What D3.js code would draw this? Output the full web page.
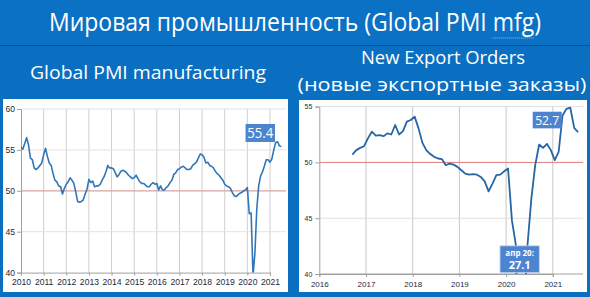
<!DOCTYPE html>
<html><head><meta charset="utf-8">
<script src="https://cdn.jsdelivr.net/npm/d3@7"></script>
<style>
html,body{margin:0;padding:0;background:#0a6fc0;}
svg{display:block;}
</style></head>
<body>
<svg id="c" width="590" height="297"></svg>
<script>
// ---------- DATA ----------
const pmiStart = [2010, 0];           // Jan 2010, monthly
const globalPMI = [
 55.3,55.1,55.8,56.5,55.6,54.0,53.8,52.8,52.6,52.8,53.1,53.4,
 54.4,55.2,54.2,53.4,53.1,52.1,51.3,51.1,50.6,50.5,49.6,50.3,
 50.8,51.1,51.6,51.3,50.9,49.9,48.7,48.6,48.7,48.9,49.6,50.2,
 51.4,51.0,51.2,50.5,50.6,50.6,50.8,51.3,51.7,52.3,53.1,52.8,
 52.8,52.7,52.2,51.7,52.0,52.4,52.5,52.4,52.2,51.9,51.7,51.5,
 51.6,51.9,51.5,51.1,50.9,50.9,50.7,50.5,50.5,50.8,51.0,50.8,
 50.9,50.1,50.6,50.1,50.1,50.4,50.6,51.0,51.3,52.0,52.2,52.6,
 52.7,52.9,53.0,52.8,52.6,52.6,52.7,53.1,53.3,53.5,54.0,54.5,
 54.4,54.1,53.4,53.5,53.1,53.0,52.8,52.4,52.1,51.9,51.6,51.3,
 50.8,50.6,50.5,50.3,49.8,49.4,49.3,49.5,49.7,49.8,50.0,50.1,
 50.4,47.2,47.3,39.6,42.4,47.8,50.6,51.8,52.3,53.0,53.8,53.8,
 53.5,53.9,55.0,55.9,56.0,55.5,55.4
];
const exportStart = [2016, 8];        // Sep 2016, monthly
const exportOrders = [
 50.7,51.1,51.3,51.45,
 52.15,52.75,52.4,52.45,52.35,52.6,52.5,53.35,52.5,52.8,53.65,53.8,
 54.1,53.05,51.75,51.1,50.75,50.5,50.35,50.3,49.75,49.9,49.8,49.6,
 49.3,49.0,48.9,48.95,48.9,48.7,48.3,47.4,48.1,48.85,48.9,49.2,
 49.45,44.8,42.6,27.1,36.3,42.6,46.8,49.8,51.6,51.3,51.65,51.1,
 50.2,50.95,54.2,54.8,54.9,53.1,52.7
];
const leftYears = [2010,2011,2012,2013,2014,2015,2016,2017,2018,2019,2020,2021];
const rightYears = [2016,2017,2018,2019,2020,2021];
const leftYTicks = [40,45,50,55,60];
const rightYTicks = [40,45,50,55];
const titleText = "Мировая промышленность (Global PMI mfg)";
const leftTitle = "Global PMI manufacturing";
const rightTitle1 = "New Export Orders";
const rightTitle2 = "(новые экспортные заказы)";
const leftCallout = "55.4";
const rightCallout = "52.7";
const lowCallout = ["апр 20:", "27.1"];

// ---------- DRAW ----------
const svg = d3.select("#c");
const FONT = "'Open Sans', 'Noto Sans', sans-serif";
const AX = "'Liberation Sans', Arial, sans-serif";

svg.append("rect").attr("width",590).attr("height",297).attr("fill","#0a6fc0");
svg.append("rect").attr("width",590).attr("height",45).attr("fill","#0b71c4");
svg.append("line").attr("x1",0).attr("x2",590).attr("y1",45.5).attr("y2",45.5)
   .attr("stroke","#0a5596").attr("stroke-width",1.2);

const t = svg.append("text").attr("x",295).attr("y",31).attr("text-anchor","middle")
  .attr("fill","#fff").attr("font-family",FONT).attr("font-size",25)
  .attr("textLength",492).attr("lengthAdjust","spacingAndGlyphs").text(titleText);
// spell-check style squiggle under "mfg"
try{
  const node=t.node(); const i=titleText.indexOf("mfg");
  const a=node.getStartPositionOfChar(i).x, b=node.getEndPositionOfChar(i+2).x;
  svg.append("line").attr("x1",a).attr("x2",b).attr("y1",38).attr("y2",38)
    .attr("stroke","#8fbde6").attr("stroke-width",1).attr("stroke-dasharray","1,1");
}catch(e){}

svg.append("text").attr("x",148).attr("y",79).attr("text-anchor","middle")
  .attr("fill","#fff").attr("font-family",FONT).attr("font-size",18.5)
  .attr("textLength",236).attr("lengthAdjust","spacingAndGlyphs").text(leftTitle);
svg.append("text").attr("x",443).attr("y",64).attr("text-anchor","middle")
  .attr("fill","#fff").attr("font-family",FONT).attr("font-size",18.5)
  .attr("textLength",164).attr("lengthAdjust","spacingAndGlyphs").text(rightTitle1);
svg.append("text").attr("x",442).attr("y",91).attr("text-anchor","middle")
  .attr("fill","#fff").attr("font-family",FONT).attr("font-size",18.5)
  .attr("textLength",289).attr("lengthAdjust","spacingAndGlyphs").text(rightTitle2);

// panels
svg.append("rect").attr("x",3).attr("y",99).attr("width",285).attr("height",193).attr("fill","#fff");
svg.append("rect").attr("x",299).attr("y",100).attr("width",288).attr("height",192).attr("fill","#fff");

function monthTime(start, i, offset){ return start[0] + (start[1] + i + offset)/12; }

// ---------- LEFT CHART ----------
const xL = d3.scaleLinear().domain([2010,2021]).range([21,270]);
const yL = d3.scaleLinear().domain([40,60]).range([272.6,109]);
const gL = svg.append("g");
gL.selectAll(".vg").data(leftYears.slice(1)).join("line")
  .attr("x1",d=>xL(d)).attr("x2",d=>xL(d)).attr("y1",yL(60)).attr("y2",yL(40))
  .attr("stroke","#cfcfcf").attr("stroke-width",1);
gL.selectAll(".hg").data(leftYTicks.filter(v=>v!==40&&v!==50)).join("line")
  .attr("x1",xL(2010)).attr("x2",286).attr("y1",d=>yL(d)).attr("y2",d=>yL(d))
  .attr("stroke","#e3e3e3").attr("stroke-width",1);
gL.append("line").attr("x1",xL(2010)).attr("x2",286).attr("y1",yL(50)).attr("y2",yL(50))
  .attr("stroke","#d9a3a0").attr("stroke-width",1.2);

const axL = gL.append("g").attr("transform",`translate(${xL(2010)},0)`)
  .call(d3.axisLeft(yL).tickValues(leftYTicks).tickSize(4).tickPadding(2).tickFormat(d3.format("d")));
const axLB = gL.append("g").attr("transform",`translate(0,${yL(40)})`)
  .call(d3.axisBottom(xL).tickValues(leftYears).tickSize(3).tickPadding(3).tickFormat(d3.format("d")));
[axL,axLB].forEach(a=>{
  a.select(".domain").attr("stroke","#a0a0a0");
  a.selectAll(".tick line").attr("stroke","#a0a0a0");
  a.selectAll("text").attr("fill","#1e2a3a").attr("font-family",AX).attr("font-size",8.6);
});

svg.append("clipPath").attr("id","clipL").append("rect")
  .attr("x",xL(2010)).attr("y",yL(60)-2).attr("width",270).attr("height",yL(40)-yL(60)+2);
const lineL = d3.line().x((d,i)=>xL(monthTime(pmiStart,i,0))).y(d=>yL(d));
gL.append("path").datum(globalPMI).attr("d",lineL).attr("fill","none")
  .attr("stroke","#3276b6").attr("stroke-width",1.6).attr("stroke-linejoin","round")
  .attr("clip-path","url(#clipL)");

// callout 55.4
const cbL = {x0:xL(2019.92), x1:xL(2021.22), y0:yL(58.17), y1:yL(55.97)};
gL.append("rect").attr("x",cbL.x0).attr("y",cbL.y0).attr("width",cbL.x1-cbL.x0).attr("height",cbL.y1-cbL.y0)
  .attr("fill","#4d84cf");
gL.append("text").attr("x",(cbL.x0+cbL.x1)/2).attr("y",cbL.y1-3.5).attr("text-anchor","middle")
  .attr("fill","#fff").attr("font-family",FONT).attr("font-size",14)
  .attr("textLength",26).attr("lengthAdjust","spacingAndGlyphs").text(leftCallout);

// ---------- RIGHT CHART ----------
const xR = d3.scaleLinear().domain([2016,2021]).range([319.3,552.8]);
const yR = d3.scaleLinear().domain([40,55]).range([274,106.6]);
const gR = svg.append("g");
gR.selectAll(".vg").data(rightYears.slice(1)).join("line")
  .attr("x1",d=>xR(d)).attr("x2",d=>xR(d)).attr("y1",yR(55)).attr("y2",yR(40))
  .attr("stroke","#c8c8c8").attr("stroke-width",1);
gR.selectAll(".hg").data(rightYTicks.filter(v=>v!==40&&v!==50)).join("line")
  .attr("x1",xR(2016)).attr("x2",583).attr("y1",d=>yR(d)).attr("y2",d=>yR(d))
  .attr("stroke","#e0e0e0").attr("stroke-width",1);
gR.append("line").attr("x1",xR(2016)).attr("x2",583).attr("y1",yR(50)).attr("y2",yR(50))
  .attr("stroke","#e07b78").attr("stroke-width",1);

const axR = gR.append("g").attr("transform",`translate(${xR(2016)},0)`)
  .call(d3.axisLeft(yR).tickValues(rightYTicks).tickSize(4).tickPadding(3).tickFormat(d3.format("d")));
const axRB = gR.append("g").attr("transform",`translate(0,${yR(40)})`)
  .call(d3.axisBottom(xR).tickValues(rightYears).tickSize(3).tickPadding(4).tickFormat(d3.format("d")));
gR.append("line").attr("x1",xR(2016)).attr("x2",583).attr("y1",yR(40)).attr("y2",yR(40)).attr("stroke","#a0a0a0");
[axR,axRB].forEach(a=>{
  a.select(".domain").attr("stroke","#a0a0a0");
  a.selectAll(".tick line").attr("stroke","#a0a0a0");
  a.selectAll("text").attr("fill","#1e2a3a").attr("font-family",AX);
});
axR.selectAll("text").attr("font-size",7);
axRB.selectAll("text").attr("font-size",8);

svg.append("clipPath").attr("id","clipR").append("rect")
  .attr("x",xR(2016)).attr("y",yR(55)-3).attr("width",270).attr("height",yR(40)-yR(55)+3);
const lineR = d3.line().x((d,i)=>xR(monthTime(exportStart,i,0.5))).y(d=>yR(d));
gR.append("path").datum(exportOrders).attr("d",lineR).attr("fill","none")
  .attr("stroke","#2466a6").attr("stroke-width",1.8).attr("stroke-linejoin","round")
  .attr("clip-path","url(#clipR)");

// callout 52.7
const cbR = {x0:xR(2020.57), x1:xR(2021.19), y0:yR(54.54), y1:yR(53.05)};
gR.append("rect").attr("x",cbR.x0).attr("y",cbR.y0).attr("width",cbR.x1-cbR.x0).attr("height",cbR.y1-cbR.y0)
  .attr("fill","#4d84cf");
gR.append("text").attr("x",(cbR.x0+cbR.x1)/2).attr("y",cbR.y1-3.5).attr("text-anchor","middle")
  .attr("fill","#fff").attr("font-family",FONT).attr("font-size",13)
  .attr("textLength",24).attr("lengthAdjust","spacingAndGlyphs").text(rightCallout);

// callout апр 20: 27.1
const cbA = {x0:xR(2019.87), x1:xR(2020.71), y0:yR(42.52), y1:yR(40.13)};
gR.append("rect").attr("x",cbA.x0).attr("y",cbA.y0).attr("width",cbA.x1-cbA.x0).attr("height",cbA.y1-cbA.y0)
  .attr("fill","#4d84cf").attr("stroke","#b7cff0").attr("stroke-width",0.8);
gR.append("text").attr("x",(cbA.x0+cbA.x1)/2).attr("y",cbA.y0+10).attr("text-anchor","middle")
  .attr("fill","#fff").attr("font-family",FONT).attr("font-size",8).attr("font-weight","bold").text(lowCallout[0]);
gR.append("text").attr("x",(cbA.x0+cbA.x1)/2).attr("y",cbA.y0+23.5).attr("text-anchor","middle")
  .attr("fill","#fff").attr("font-family",FONT).attr("font-size",11).attr("font-weight","bold").text(lowCallout[1]);
</script>
</body></html>
